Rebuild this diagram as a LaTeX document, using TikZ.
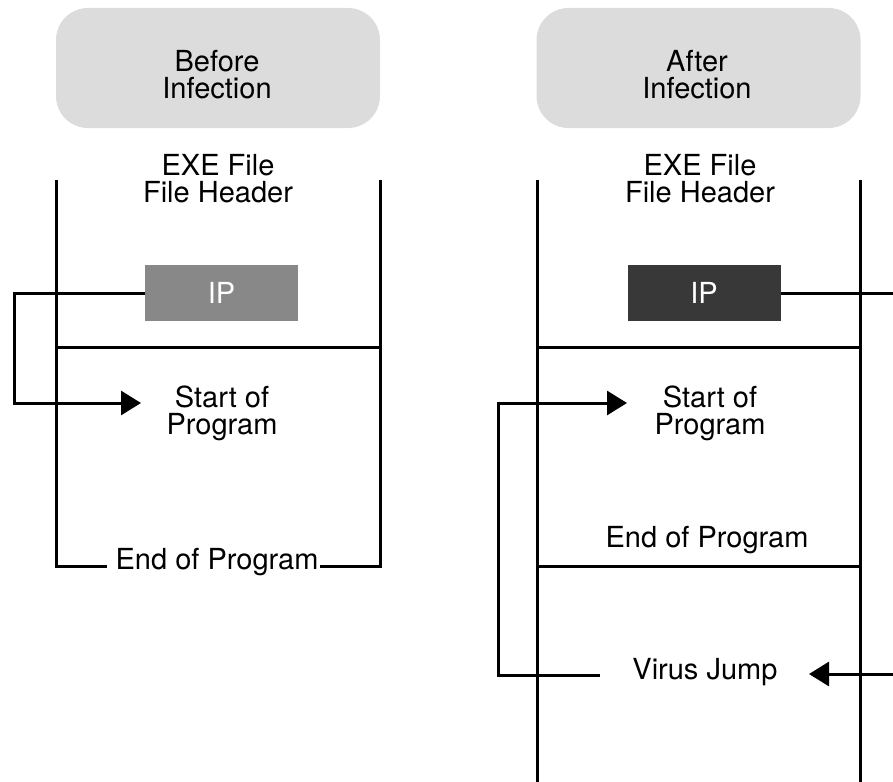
\documentclass[tikz,border=0pt]{standalone}
\usepackage{fontspec}
\setmainfont{TeX Gyre Heros}
\usetikzlibrary{arrows.meta}
\definecolor{headgray}{HTML}{DCDCDC}
\definecolor{iplight}{HTML}{888888}
\definecolor{ipdark}{HTML}{383838}
\begin{document}
\begin{tikzpicture}[x=1pt,y=-1pt,
  wire/.style={line width=3pt},
  arr/.style={wire,-{Triangle[length=20pt,width=24pt]}},
  txt/.style={font=\fontsize{29}{27}\selectfont, align=center, inner sep=0pt},
  hdr/.style={fill=headgray, rounded corners=32pt, minimum width=324pt, minimum height=120pt, inner sep=0pt},
  ipbox/.style={minimum width=153pt, minimum height=56pt, inner sep=0pt, text=white, font=\fontsize{29}{29}\selectfont}]
\useasboundingbox (0,0) rectangle (893,781);
\clip (0,0) rectangle (893,781);
% headers
\node[hdr] (hbL) at (218,68) {};
\node[hdr] (hbR) at (698.5,68) {};
\node[txt] (hL) at (217,75) {Before\\Infection};
\node[txt] (hR) at (697,75) {After\\Infection};
\node[txt] (exeL) at (218,179) {EXE File\\File Header};
\node[txt] (exeR) at (700,179) {EXE File\\File Header};
% left panel
\draw[wire] (56,180) -- (56,566) -- (107,566);
\draw[wire] (320,566) -- (380,566) -- (380,180);
\draw[wire] (56,347) -- (380,347);
\node[ipbox, fill=iplight] (ipL) at (221.5,293) {IP};
\node[txt] (startL) at (222,413) {Start of\\Program};
\node[txt] (endL) at (217,562) {End of Program};
\coordinate (tipL) at (141,403);
\draw[arr] (ipL.west) -- ++(-130,0) |- (tipL);
% right panel
\draw[wire] (537,180) -- (537,790);
\draw[wire] (860,180) -- (860,790);
\draw[wire] (537,347) -- (860,347);
\draw[wire] (537,566) -- (860,566);
\node[ipbox, fill=ipdark] (ipR) at (704,293) {IP};
\node[txt] (startR) at (710,413) {Start of\\Program};
\node[txt] (endR) at (707,540) {End of Program};
\node[txt] (vj) at (705,672) {Virus Jump};
\coordinate (tipR) at (809,674);
\coordinate (vjL) at (600,675);
\coordinate (tipS) at (627,403);
\draw[arr] (ipR.east) -- ++(120,0) |- (tipR);
\draw[arr] (vjL) -- ++(-102,0) |- (tipS);
\end{tikzpicture}
\end{document}
